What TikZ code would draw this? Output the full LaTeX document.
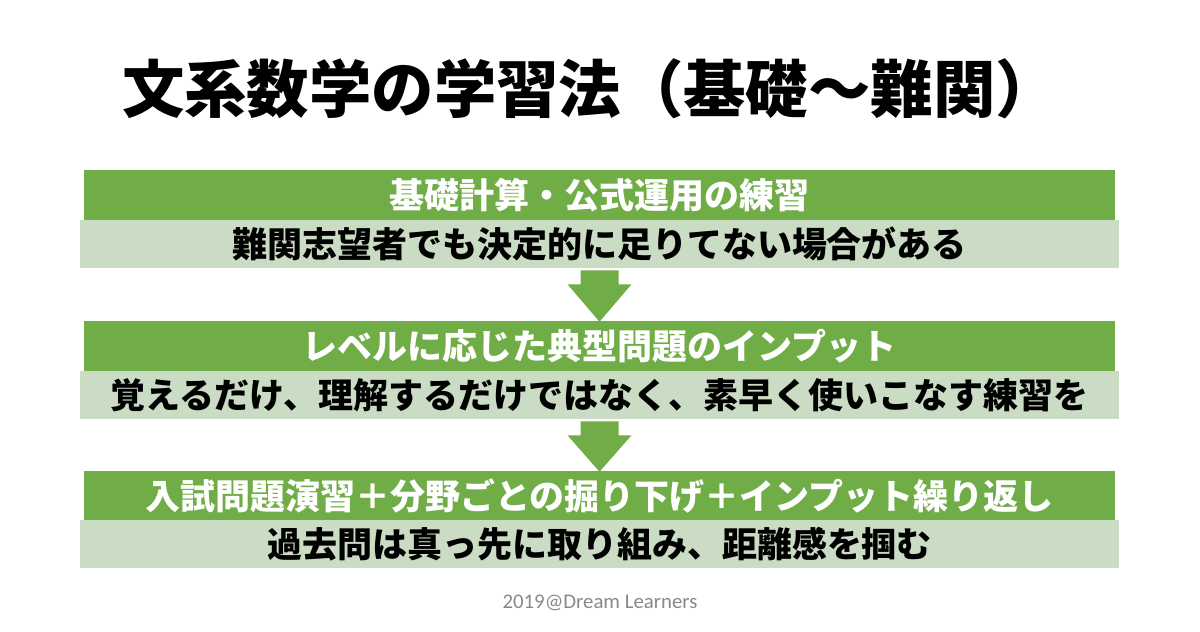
\documentclass[tikz,border=0pt]{standalone}
\usepackage{fontspec}
\newfontfamily\cjk{Noto Sans CJK JP}
\newfontfamily\cjkblack{Noto Sans CJK JP Black}
\newfontfamily\footfont{Carlito}
\usetikzlibrary{calc}
\definecolor{barG}{HTML}{70AD47}
\definecolor{barL}{HTML}{CADCC3}
\definecolor{footG}{HTML}{898989}
\tikzset{
  greenbar/.style={fill=barG, text=white, minimum width=773.25pt, minimum height=37.5pt, inner sep=0pt, font=\cjk\bfseries\fontsize{26.25pt}{30pt}\selectfont},
  lightbar/.style={fill=barL, text=black, minimum width=779.25pt, minimum height=36pt, inner sep=0pt, font=\cjk\bfseries\fontsize{26.25pt}{30pt}\selectfont},
  blockarrow/.style={fill=barG},
  titletext/.style={inner sep=0pt, font=\cjkblack\fontsize{46.8pt}{50pt}\selectfont},
  foottext/.style={inner sep=0pt, text=footG, font=\footfont\fontsize{15.6pt}{18pt}\selectfont}
}
\begin{document}
\begin{tikzpicture}[x=0.75pt,y=-0.75pt]
\useasboundingbox (0,0) rectangle (1200,632);
\fill[white] (0,0) rectangle (1200,632);
\node[titletext] (title) at (590,89) {文系数学の学習法（基礎〜難関）};
\node[greenbar] (g1) at (599.5,195) {基礎計算・公式運用の練習};
\node[lightbar] (l1) at (599.5,244) {難関志望者でも決定的に足りてない場合がある};
\node[greenbar] (g2) at (599.5,346) {レベルに応じた典型問題のインプット};
\node[lightbar] (l2) at (599.5,395) {覚えるだけ、理解するだけではなく、素早く使いこなす練習を};
\node[greenbar] (g3) at (599.5,496) {入試問題演習＋分野ごとの掘り下げ＋インプット繰り返し};
\node[lightbar] (l3) at (599.5,544) {過去問は真っ先に取り組み、距離感を掴む};
\node[foottext] (foot) at (600,603) {2019@Dream Learners};
\foreach \a/\b in {l1/g2, l2/g3}{
  \fill[blockarrow] ($(\a.south)+(-19,2)$) -- ($(\a.south)+(19,2)$) -- ($(\a.south)+(19,16)$) -- ($(\a.south)+(32,16)$) -- ($(\b.north)+(0,1)$) -- ($(\a.south)+(-32,16)$) -- ($(\a.south)+(-19,16)$) -- cycle;
}
\end{tikzpicture}
\end{document}
